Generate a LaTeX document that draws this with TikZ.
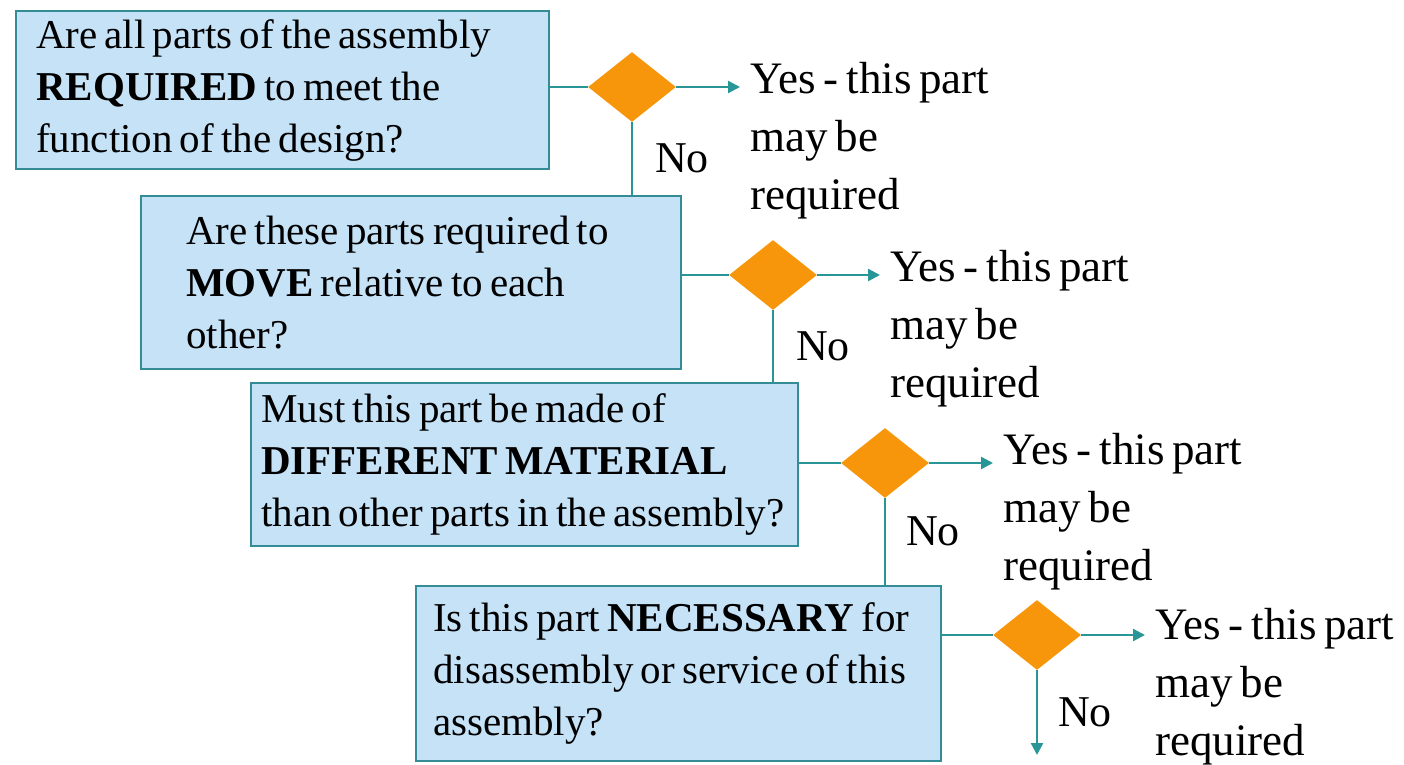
\documentclass[tikz,border=0pt]{standalone}
\usepackage{fontspec}
\setmainfont{Liberation Serif}[WordSpace=0.7]
\usepackage{xcolor}
\usepackage{tikz}
\usetikzlibrary{positioning, arrows.meta, shapes.geometric}

\definecolor{boxfill}{RGB}{197,226,247}
\definecolor{boxline}{RGB}{52,140,150}
\definecolor{flowline}{RGB}{40,150,150}
\definecolor{dorange}{RGB}{247,150,10}

\begin{document}
\begin{tikzpicture}[
    x=0.5pt, y=-0.5pt,
    qbox/.style={draw=boxline, fill=boxfill, line width=1.2pt, anchor=north west, align=flush left, inner ysep=0pt, font=\fontsize{20.5}{26}\selectfont},
    decision/.style={diamond, fill=dorange, minimum width=44pt, minimum height=35pt, inner sep=0pt},
    yes/.style={anchor=north west, align=flush left, inner sep=0pt, font=\fontsize{22.5}{29}\selectfont},
    nolabel/.style={inner sep=0pt, font=\fontsize{22}{26}\selectfont},
    flow/.style={draw=flowline, line width=1.2pt},
    flowarrow/.style={flow, -{Triangle[length=6pt, width=6pt]}}
]
    \useasboundingbox (0,0) rectangle (1404,765);

    % question boxes
    \node[qbox, minimum width=266.5pt, minimum height=79pt, inner xsep=10pt, text width=246.5pt] (q1) at (15,10)
        {Are all parts of the assembly\\\textbf{REQUIRED} to meet the\\function of the design?};
    \node[qbox, minimum width=270pt, minimum height=86.5pt, inner xsep=22.5pt, text width=225pt] (q2) at (140,195)
        {Are these parts required to\\\textbf{MOVE} relative to each\\other?};
    \node[qbox, minimum width=273.5pt, minimum height=81.5pt, inner xsep=5pt, text width=263.5pt] (q3) at (250,382)
        {Must this part be made of\\\textbf{DIFFERENT MATERIAL}\\than other parts in the assembly?};
    \node[qbox, minimum width=262.5pt, minimum height=87.5pt, inner xsep=8.5pt, text width=245.5pt] (q4) at (415,585)
        {Is this part \textbf{NECESSARY} for\\disassembly or service of this\\assembly?};

    % decisions
    \node[decision] (d1) at (632,87) {};
    \node[decision] (d2) at (773,275) {};
    \node[decision] (d3) at (885,463) {};
    \node[decision] (d4) at (1037,635) {};

    % yes answers
    \node[yes] (yes1) at (750,62) {Yes - this part\\may be\\required};
    \node[yes] (yes2) at (890,250) {Yes - this part\\may be\\required};
    \node[yes] (yes3) at (1003,433) {Yes - this part\\may be\\required};
    \node[yes] (yes4) at (1155,608) {Yes - this part\\may be\\required};

    \coordinate (end4) at (1037,755);

    % connectors
    \draw[flow] (d1.west -| q1.east) -- (d1.west);
    \draw[flow] (d2.west -| q2.east) -- (d2.west);
    \draw[flow] (d3.west -| q3.east) -- (d3.west);
    \draw[flow] (d4.west -| q4.east) -- (d4.west);

    \draw[flowarrow, shorten >=5pt] (d1.east) -- (d1.east -| yes1.west);
    \draw[flowarrow, shorten >=5pt] (d2.east) -- (d2.east -| yes2.west);
    \draw[flowarrow, shorten >=5pt] (d3.east) -- (d3.east -| yes3.west);
    \draw[flowarrow, shorten >=5pt] (d4.east) -- (d4.east -| yes4.west);

    \draw[flow] (d1.south) -- (d1.south |- q2.north) node[nolabel, midway, right=11pt] (no1) {No};
    \draw[flow] (d2.south) -- (d2.south |- q3.north) node[nolabel, midway, right=11pt] (no2) {No};
    \draw[flow] (d3.south) -- (d3.south |- q4.north) node[nolabel, midway, right=10pt, yshift=5pt] (no3) {No};
    \draw[flowarrow] (d4.south) -- (end4) node[nolabel, midway, right=10pt] (no4) {No};
\end{tikzpicture}
\end{document}
